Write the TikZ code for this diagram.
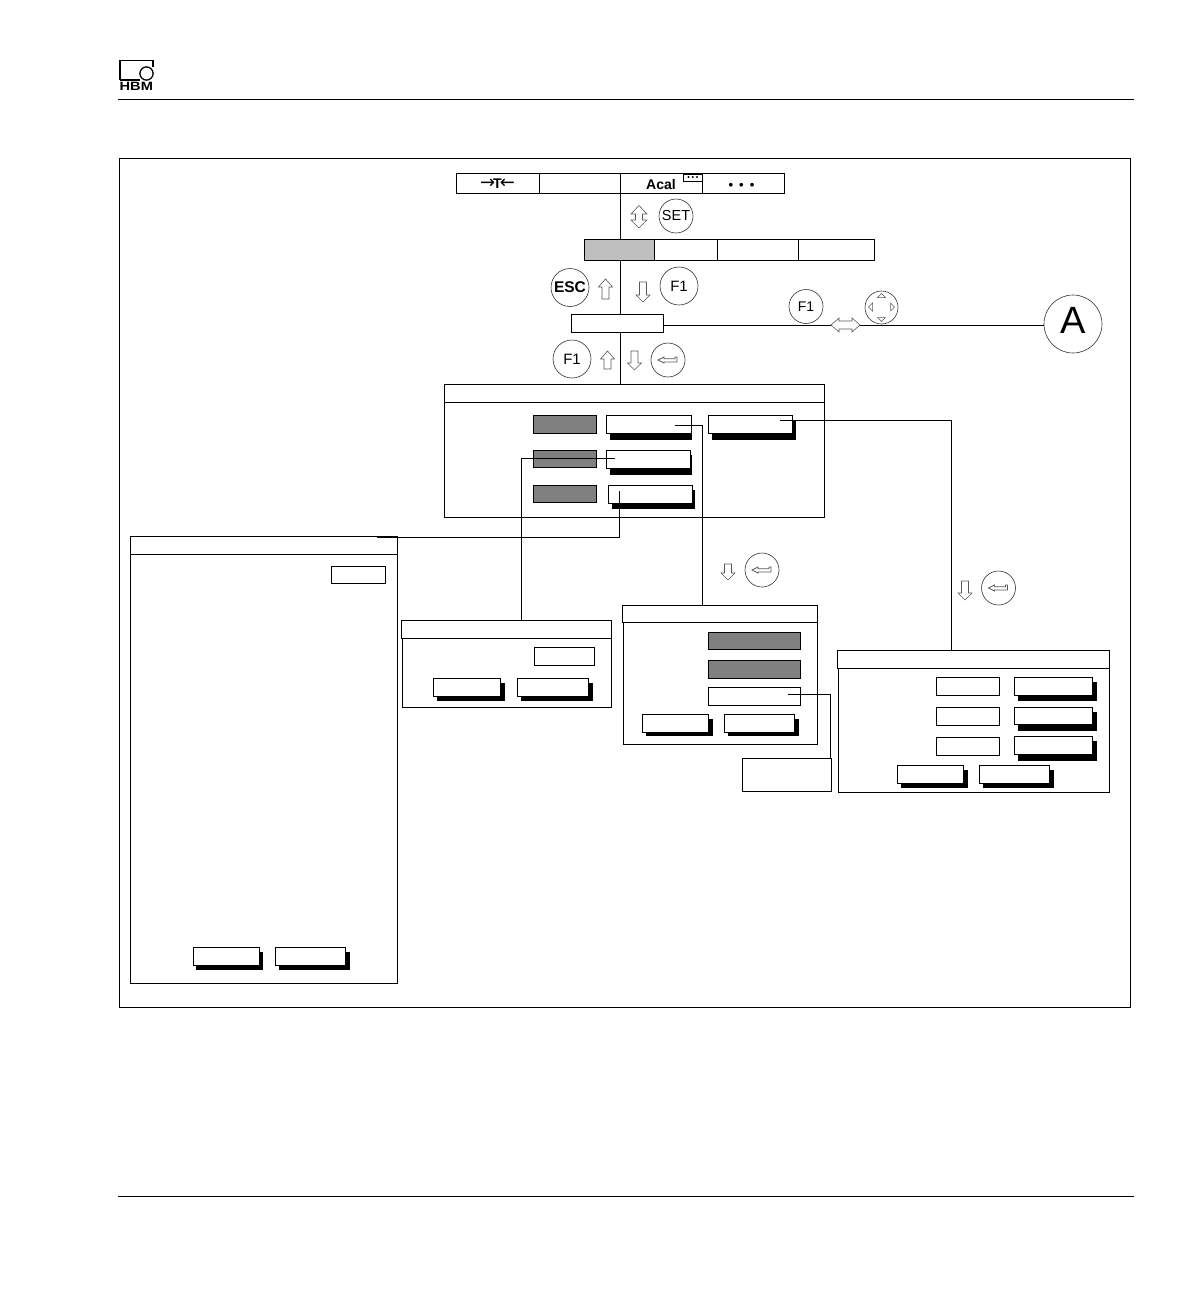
\documentclass[tikz,border=0pt]{standalone}
\usepackage{fontspec}
\setmainfont{Liberation Sans}
\newfontfamily\arrowfont{DejaVu Sans}
\definecolor{darkg}{gray}{0.5}
\definecolor{lightg}{gray}{0.75}
\definecolor{arrowg}{gray}{0.35}
\tikzset{
  bx/.style={draw=black,line width=0.9pt,fill=white,rectangle,inner sep=0pt,outer sep=0pt},
  greybx/.style={bx,fill=darkg},
  lightbx/.style={bx,fill=lightg},
  shadowbx/.style={fill=black,draw=none,rectangle,inner sep=0pt,outer sep=0pt},
  keyc/.style={draw=black!80,line width=0.6pt,fill=white,circle,inner sep=0pt,outer sep=0pt,font=\fontsize{15}{15}\selectfont},
  conn/.style={draw=black,line width=0.9pt},
  arr/.style={draw=arrowg,line width=0.6pt,fill=white,line join=miter},
  rule/.style={draw=black,line width=0.9pt}
}
% name x1 y1 x2 y2 style
\newcommand{\bxn}[6]{\node[#6,minimum width={(#4-#2)*1pt},minimum height={(#5-#3)*1pt}] (#1) at ({(#2+#4)/2},{(#3+#5)/2}) {};}
% button with drop shadow: name x1 y1 x2 y2 sx2 sy2
\newcommand{\btn}[7]{\bxn{#1s}{(#2+3)}{(#3+4)}{#6}{#7}{shadowbx}\bxn{#1}{#2}{#3}{#4}{#5}{bx}}
\newcommand{\arrdown}[3]{\draw[arr] (#1-3.5,#2) -- (#1+3.5,#2) -- (#1+3.5,#3-7) -- (#1+7,#3-7) -- (#1,#3) -- (#1-7,#3-7) -- (#1-3.5,#3-7) -- cycle;}
\newcommand{\arrup}[3]{\draw[arr] (#1-3.5,#3) -- (#1+3.5,#3) -- (#1+3.5,#2+8) -- (#1+7,#2+8) -- (#1,#2) -- (#1-7,#2+8) -- (#1-3.5,#2+8) -- cycle;}
\newcommand{\entersym}[2]{\begin{scope}[shift={(#1,#2)}]\draw[arr,line width=0.7pt] (-10,0) -- (-4,-3) -- (-4,-1.2) -- (7,-1.2) -- (7,-3) -- (9,-3) -- (9,2) -- (-4,2) -- (-4,3) -- cycle;\end{scope}}
\begin{document}
\begin{tikzpicture}[x=1pt,y=-1pt]
\useasboundingbox (0,0) rectangle (1191,1304);
% header and footer
\coordinate (hl) at (118,99); \coordinate (hr) at (1134,99);
\coordinate (fl) at (118,1196); \coordinate (fr) at (1134,1196);
\draw[rule] (hl) -- (hr);
\draw[rule] (fl) -- (fr);
% logo
\draw[line width=1.5pt] (120,80) -- (120,60.7) -- (153,60.7) -- (153,67);
\draw[line width=1.3pt] (120,80) -- (140,80);
\draw[line width=1.3pt,fill=white] (146.5,73.5) circle (6.6);
\node[inner sep=0pt,font=\bfseries\fontsize{12}{12}\selectfont,xscale=1.22] (hbm) at (136.3,86.6) {HBM};
% frame
\bxn{frame}{119.5}{158.5}{1130.5}{1007}{bx}
% top menu
\bxn{t1}{456.5}{173.5}{539}{193.5}{bx}
\bxn{t2}{539}{173.5}{620.5}{193.5}{bx}
\bxn{t3}{620.5}{173.5}{702.5}{193.5}{bx}
\bxn{t4}{702.5}{173.5}{784.5}{193.5}{bx}
\node[inner sep=0pt] (tt) at (497.5,184) {{\arrowfont\fontsize{18}{18}\selectfont →}\hspace{-2pt}{\bfseries\fontsize{14}{14}\selectfont T}\hspace{-2pt}{\arrowfont\fontsize{18}{18}\selectfont ←}};
\node[inner sep=0pt,font=\bfseries\fontsize{14}{14}\selectfont] (acal) at (661,184.5) {Acal};
\bxn{acalb}{683}{174}{702.5}{181}{bx}
\fill (688.5,177) circle (1.1) (692.7,177) circle (1.1) (697,177) circle (1.1);
\node[inner sep=0pt,font=\bfseries\fontsize{13}{13}\selectfont] (dots) at (741.5,186) {•\hspace{6pt}•\hspace{6pt}•};
% second menu
\bxn{m1}{584.5}{239.5}{654.5}{260.5}{lightbx}
\bxn{m2}{654.5}{239.5}{717.5}{260.5}{bx}
\bxn{m3}{717.5}{239.5}{798.5}{260.5}{bx}
\bxn{m4}{798.5}{239.5}{874.5}{260.5}{bx}
% third box
\bxn{f}{571.5}{314}{663.5}{332.5}{bx}
% main panel
\bxn{mainp}{444.5}{384.5}{824.5}{517}{bx}
\bxn{maint}{444.5}{384.5}{824.5}{402.5}{bx}
\bxn{g1}{533.5}{415.5}{596.5}{433.5}{greybx}
\bxn{g2}{533.5}{450.5}{596.5}{467.5}{greybx}
\bxn{g3}{533.5}{485}{596.5}{502.5}{greybx}
\btn{b1}{606.5}{415.5}{691.5}{433.5}{692}{440}
\btn{b2}{606.5}{450.5}{690.5}{468.5}{692}{474.5}
\btn{b3}{608.5}{485.5}{692.5}{503}{695}{508.5}
\btn{b4}{708.5}{415.5}{792.5}{433.5}{796}{440}
% left panel
\bxn{lp}{130.5}{536.5}{397.5}{983.5}{bx}
\bxn{lpt}{130.5}{536.5}{397.5}{554.5}{bx}
\bxn{lps}{331.5}{566}{385.5}{583.5}{bx}
\btn{lb1}{193}{947.5}{259}{965}{263}{969.5}
\btn{lb2}{275.5}{947.5}{345.5}{965}{349.5}{969.5}
% middle-left panel
\bxn{ap}{402.5}{620.5}{611.5}{707.5}{bx}
\bxn{apt}{401.5}{620.5}{611.5}{638.5}{bx}
\bxn{aps}{534.5}{647.5}{594.5}{665}{bx}
\btn{ab1}{433.5}{678.5}{500.5}{696.5}{504.5}{700.5}
\btn{ab2}{517.5}{678.5}{588.5}{696.5}{593}{700.5}
% middle panel
\bxn{cp}{623.5}{605.5}{817.5}{744.5}{bx}
\bxn{cpt}{622.5}{605.5}{817.5}{622.5}{bx}
\bxn{cg1}{708.5}{632.5}{800.5}{649.5}{greybx}
\bxn{cg2}{708.5}{660.5}{800.5}{678.5}{greybx}
\bxn{cw}{708.5}{687.5}{800.5}{705.5}{bx}
\btn{cb1}{642.5}{714.5}{708.5}{732.5}{712.5}{735.5}
\btn{cb2}{724.5}{714.5}{794.5}{732.5}{798.5}{735.5}
\bxn{pop}{742.5}{758.5}{831.5}{791.5}{bx}
% right panel
\bxn{rp}{838.5}{650.5}{1109.5}{792.5}{bx}
\bxn{rpt}{837.5}{650.5}{1109.5}{668.5}{bx}
\bxn{rs1}{936.5}{677.5}{999.5}{695.5}{bx}
\bxn{rs2}{936.5}{707.5}{999.5}{725.5}{bx}
\bxn{rs3}{936.5}{737.5}{999.5}{755.5}{bx}
\btn{rb1}{1014.5}{677.5}{1092.5}{695.5}{1096.5}{700.5}
\btn{rb2}{1014.5}{707.5}{1092.5}{724.5}{1096.5}{730.5}
\btn{rb3}{1014.5}{736.5}{1092.5}{754.5}{1096.5}{760.5}
\btn{rb4}{897.5}{765.5}{963.5}{783.5}{967.5}{787.5}
\btn{rb5}{979.5}{765.5}{1049.5}{783.5}{1053.5}{787.5}
% connector ends and corners
\coordinate (c1a) at (620.5,193.5); \coordinate (c1b) at (620.5,239.5);
\coordinate (c2a) at (620.5,260.5); \coordinate (c2b) at (620.5,314);
\coordinate (c3a) at (620.5,332.5); \coordinate (c3b) at (620.5,384.5);
\coordinate (b1e) at (675,425.5); \coordinate (b1k) at (702.5,425.5); \coordinate (b1d) at (702.5,605.5);
\coordinate (b2e) at (615,458.5); \coordinate (b2k) at (521.5,458.5); \coordinate (b2d) at (521.5,620.5);
\coordinate (b3e) at (619.5,491); \coordinate (b3k) at (619.5,537.5); \coordinate (b3d) at (377,537.5);
\coordinate (b4e) at (780,420.5); \coordinate (b4k) at (951,420.5); \coordinate (b4d) at (951,650.5);
\coordinate (cwe) at (788,694); \coordinate (cwk) at (830.5,694); \coordinate (cwd) at (830.5,758.5);
\node[draw=black!80,line width=0.6pt,circle,fill=white,inner sep=0pt,minimum size=58pt] (A) at (1073,324) {};
\node[inner sep=0pt,font=\fontsize{38}{38}\selectfont] (Alabel) at (1073,320.5) {A};
\coordinate (fe) at (663.5,325);
\draw[conn] (c1a) -- (c1b);
\draw[conn] (c2a) -- (c2b);
\draw[conn] (c3a) -- (c3b);
\draw[conn] (fe) -- (fe -| A.west);
\draw[conn] (b1e) -- (b1k) -- (b1d);
\draw[conn] (b2e) -- (b2k) -- (b2d);
\draw[conn] (b3e) -- (b3k) -- (b3d);
\draw[line width=1.6pt] (377,536.7) -- (397.5,536.7);
\draw[conn] (b4e) -- (b4k) -- (b4d);
\draw[conn] (cwe) -- (cwk) -- (cwd);
% keys
\node[keyc,minimum size=34pt,font=\fontsize{14.5}{14.5}\selectfont] (kset) at (676,216) {SET};
\node[keyc,minimum size=38pt,font=\bfseries\fontsize{15.5}{15.5}\selectfont] (kesc) at (570,287.5) {ESC};
\node[keyc,minimum size=38pt] (kf1a) at (679,286) {F1};
\node[keyc,minimum size=34pt,font=\fontsize{14}{14}\selectfont] (kf1b) at (806,306.5) {F1};
\node[keyc,minimum size=38pt] (kf1c) at (572,359) {F1};
\node[keyc,minimum size=33pt] (knav) at (881.5,307.5) {};
\draw[arr,line width=0.5pt] (881.5,293.5) -- (885.5,297.5) -- (877.5,297.5) -- cycle;
\draw[arr,line width=0.5pt] (881.5,321.5) -- (885.5,317.5) -- (877.5,317.5) -- cycle;
\draw[arr,line width=0.5pt] (868.5,307) -- (872.5,303) -- (872.5,311) -- cycle;
\draw[arr,line width=0.5pt] (894.5,307) -- (890.5,303) -- (890.5,311) -- cycle;
\node[keyc,minimum size=34pt] (ke1) at (668,360) {};
\entersym{668}{360}
\node[keyc,minimum size=34pt] (ke2) at (762,570) {};
\entersym{762}{570}
\node[keyc,minimum size=34pt] (ke3) at (998.5,588) {};
\entersym{998.5}{588}
% hollow arrows
\draw[arr] (639,205.5) -- (647,214) -- (642.5,214) -- (642.5,220) -- (647,220) -- (639,228) -- (631,220) -- (635.5,220) -- (635.5,214) -- (631,214) -- cycle;
\arrup{605.5}{279}{299}
\arrdown{643}{282}{302}
\arrup{607.5}{351}{369}
\arrdown{634.5}{351}{370}
\arrdown{728}{564}{580}
\arrdown{965}{581}{600}
\draw[arr] (831,325) -- (839,318) -- (839,321) -- (852,321) -- (852,318) -- (860,325) -- (852,332) -- (852,329) -- (839,329) -- (839,332) -- cycle;
\end{tikzpicture}
\end{document}
